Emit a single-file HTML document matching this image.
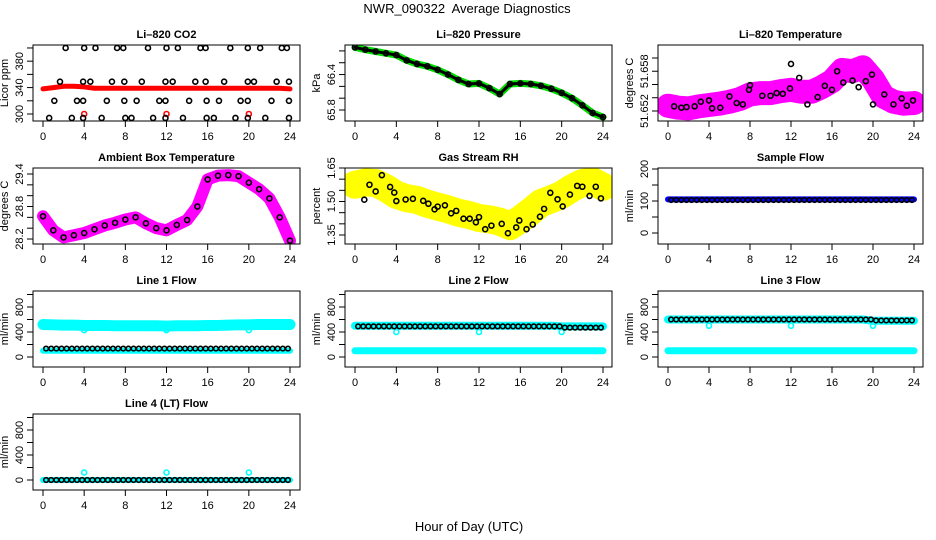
<!DOCTYPE html>
<html><head><meta charset="utf-8"><style>
html,body{margin:0;padding:0;background:#fff}
svg{display:block;font-family:"Liberation Sans",Arial,sans-serif}
</style></head><body>
<svg id="chart" width="936" height="540" viewBox="0 0 936 540">
<text x="467" y="13" text-anchor="middle" font-size="13" style="white-space:pre" xml:space="preserve">NWR_090322  Average Diagnostics</text>
<text x="469" y="531" text-anchor="middle" font-size="13">Hour of Day (UTC)</text>
</svg>
<script>
// ---------- data ----------
const hours = [0,1,2,3,4,5,6,7,8,9,10,11,12,13,14,15,16,17,18,19,20,21,22,23,24];
const halfHours = [0.3,0.8,1.3,1.8,2.3,2.8,3.3,3.8,4.3,4.8,5.3,5.8,6.3,6.8,7.3,7.8,8.3,8.8,9.3,9.8,10.3,10.8,11.3,11.8,12.3,12.8,13.3,13.8,14.3,14.8,15.3,15.8,16.3,16.8,17.3,17.8,18.3,18.8,19.3,19.8,20.3,20.8,21.3,21.8,22.3,22.8,23.3,23.8];
const xTicks = [0,4,8,12,16,20,24];

const co2Red = [338,340,342,342,341,339,339,339,339,339,339,339,339,339,339,339,339,339,339,339,339,339,339,339,338];
const co2OutHours = [4,12,20];
const co2OutVals = [300,300,300];
const co2BlackHours = [2.2,4.0,5.1,7.2,7.8,10.2,12.0,13.1,15.3,15.8,18.2,19.9,21.1,23.2,23.7,
 1.65,3.9,4.6,6.7,7.9,9.6,11.9,12.6,14.8,15.8,17.6,19.9,20.5,22.7,23.9,
 1.1,3.3,3.9,6.2,7.9,9.1,11.3,11.9,14.2,15.9,17.1,19.2,19.9,22.2,23.9,
 0.6,2.8,3.9,5.7,8.0,8.6,10.7,11.9,13.6,15.9,16.6,18.7,19.9,21.6,23.9];
const co2BlackVals = [400,400,400,400,400,400,400,400,400,400,400,400,400,400,400,
 349,349,349,349,349,349,349,349,349,349,349,349,349,349,349,
 320,320,320,320,320,320,320,320,320,320,320,320,320,320,320,
 294,294,294,294,294,294,294,294,294,294,294,294,294,294,294];

const pressVals = [66.86,66.82,66.79,66.76,66.73,66.64,66.58,66.54,66.48,66.40,66.31,66.24,66.25,66.17,66.07,66.24,66.25,66.24,66.21,66.16,66.09,66.00,65.88,65.75,65.68];

const tempMag = [51.6508,51.6505,51.6504,51.6507,51.6509,51.6511,51.6514,51.6518,51.6525,51.6527,51.6527,51.6530,51.6532,51.6529,51.6529,51.6536,51.6545,51.6562,51.6560,51.6566,51.6548,51.6522,51.6514,51.6511,51.6512];
const tempBlackHours = [0.6,1.3,1.8,2.6,3.2,4.0,4.3,5.1,6.0,6.7,7.3,7.9,8.0,9.2,10.0,10.6,11.2,11.9,12.0,12.8,13.6,14.6,15.3,16.0,16.5,17.1,18.0,18.6,19.3,19.9,20.0,21.1,22.0,22.8,23.3,23.9];
const tempBlackVals = [51.6507,51.6505,51.6506,51.6507,51.6514,51.6516,51.6504,51.6505,51.6522,51.6512,51.6510,51.6532,51.6539,51.6523,51.6523,51.6527,51.6526,51.6534,51.6571,51.6550,51.6510,51.6521,51.6538,51.6532,51.6560,51.6543,51.6546,51.6536,51.6545,51.6555,51.6510,51.6525,51.6510,51.6519,51.6508,51.6516];

const ambVals = [28.62,28.36,28.23,28.27,28.31,28.38,28.45,28.50,28.56,28.60,28.49,28.40,28.36,28.46,28.55,28.80,29.30,29.37,29.38,29.36,29.24,29.12,28.95,28.60,28.17];

const rhYellow = [1.575,1.585,1.583,1.56,1.53,1.515,1.507,1.49,1.477,1.465,1.45,1.44,1.426,1.42,1.41,1.39,1.42,1.455,1.493,1.51,1.53,1.56,1.583,1.59,1.566];
const rhBlackHours = [0.9,1.4,2.0,2.6,3.4,3.8,4.0,4.9,5.6,6.6,7.1,7.7,8.0,8.7,9.3,9.8,10.5,11.1,11.7,12.0,12.6,13.2,14.2,14.8,15.6,15.9,16.6,17.2,17.9,18.3,18.9,19.6,20.1,20.8,21.5,22.0,22.7,23.3,23.8];
const rhBlackVals = [1.508,1.575,1.545,1.618,1.565,1.540,1.502,1.509,1.512,1.503,1.490,1.465,1.477,1.483,1.447,1.458,1.423,1.423,1.407,1.430,1.376,1.392,1.400,1.358,1.384,1.415,1.376,1.397,1.432,1.467,1.539,1.510,1.478,1.531,1.570,1.566,1.525,1.566,1.514];

const sampleVals = [105,105,105,105,105,105,105,105,105,105,105,105,105,105,105,105,105,105,105,105,105,105,105,105,105];
const sampleBlack = [103,103,103,103,103,103,103,103,103,103,103,103,103,103,103,103,103,103,103,103,103,103,103,103,103,103,103,103,103,103,103,103,103,103,103,103,103,103,103,103,103,103,103,103,103,103,103,103];

const line1Cyan = [520,515,510,510,505,505,505,500,500,500,500,500,495,500,500,500,505,505,510,515,515,520,520,520,520];
const line1Low = [100,100,100,100,100,100,100,100,100,100,100,100,100,100,100,100,100,100,100,100,100,100,100,100,100];
const line1Black = [135,135,135,135,135,135,135,135,135,135,135,135,135,135,135,135,135,135,135,135,135,135,135,135,135,135,135,135,135,135,135,135,135,135,135,135,135,135,135,135,135,135,135,135,135,135,135,135];
const line2Cyan = [500,500,500,500,500,500,500,500,500,500,500,500,500,500,500,500,500,500,500,500,490,490,490,490,490];
const line2Low = [100,100,100,100,100,100,100,100,100,100,100,100,100,100,100,100,100,100,100,100,100,100,100,100,100];
const line2Black = [490,490,490,490,490,490,490,490,490,490,490,490,490,490,490,490,490,490,490,490,490,490,490,490,490,490,490,490,490,490,490,490,490,490,490,490,490,490,490,490,470,470,470,470,470,470,470,470];
const line3Cyan = [600,600,600,600,600,600,600,600,600,600,600,600,600,600,600,600,600,600,600,600,580,580,580,580,580];
const line3Low = [100,100,100,100,100,100,100,100,100,100,100,100,100,100,100,100,100,100,100,100,100,100,100,100,100];
const line3Black = [600,600,600,600,600,600,600,600,600,600,600,600,600,600,600,600,600,600,600,600,600,600,600,600,600,600,600,600,600,600,600,600,600,600,600,600,600,600,600,600,585,585,585,585,585,585,585,585];
const line4Cyan = [0,0,0,0,0,0,0,0,0,0,0,0,0,0,0,0,0,0,0,0,0,0,0,0,0];
const line4Black = [0,0,0,0,0,0,0,0,0,0,0,0,0,0,0,0,0,0,0,0,0,0,0,0,0,0,0,0,0,0,0,0,0,0,0,0,0,0,0,0,0,0,0,0,0,0,0,0];
const flowOutHours = [4,12,20];
const line1Out = [430,430,430];
const line2Out = [400,400,400];
const line3Out = [500,500,500];
const line4Out = [120,120,120];

const co2Ticks=[300,320,340,360,380,400], co2Labels=["300","","340","","380",""];
const pressTicks=[65.8,66.0,66.2,66.4,66.6,66.8], pressLabels=["65.8","","","66.4","",""];
const tempTicks=[51.650,51.652,51.654,51.656,51.658], tempLabels=["51.652","","","51.658",""];
const ambTicks=[28.2,28.4,28.6,28.8,29.0,29.2,29.4], ambLabels=["28.2","","","28.8","","","29.4"];
const rhTicks=[1.35,1.40,1.45,1.50,1.55,1.60,1.65], rhLabels=["1.35","","","1.50","","","1.65"];
const sampleTicks=[0,50,100,150,200], sampleLabels=["0","","100","","200"];
const flowTicks=[0,200,400,600,800,1000], flowLabels=["0","","400","","800",""];

// ---------- drawing ----------
const NS="http://www.w3.org/2000/svg";
const svg=document.getElementById('chart');
function mk(tag,attrs,parent){const e=document.createElementNS(NS,tag);for(const k in attrs)e.setAttribute(k,attrs[k]);(parent||svg).appendChild(e);return e;}
const cols=[{l:33,r:300,x0:43,x24:290},{l:345,r:612,x0:355,x24:603},{l:658,r:923,x0:668,x24:914}];
function panel(name,title,col,row,ymin,ymax,ticks,labels,ytitle){
  const c=cols[col],top=45+123*row,bot=121+123*row;
  const g=mk('g',{});
  
  
  const X=h=>c.x0+(h/24)*(c.x24-c.x0);
  const Y=v=>bot-(v-ymin)/(ymax-ymin)*(bot-top);
  const clip=mk('clipPath',{id:'clip-'+name},g);
  mk('rect',{x:c.l,y:top,width:c.r-c.l,height:bot-top},clip);
  const plot=mk('g',{'clip-path':'url(#clip-'+name+')'},g);
  
  
  const t=mk('text',{x:(c.l+c.r)/2,y:top-7,'text-anchor':'middle','font-size':11,'font-weight':'bold'},g);
  t.textContent=title;
  
  
  const box=mk('rect',{x:c.l,y:top,width:c.r-c.l,height:bot-top,fill:'none',stroke:'#000','stroke-width':1},g);
  
  
  xTicks.forEach(h=>{
    const tk=mk('line',{x1:X(h),x2:X(h),y1:bot,y2:bot+6,stroke:'#000'},g);
    
    
    const lb=mk('text',{x:X(h),y:bot+19,'text-anchor':'middle','font-size':11},g);
    lb.textContent=h;
    
    
  });
  ticks.forEach((v,i)=>{
    const tk=mk('line',{x1:c.l-6,x2:c.l,y1:Y(v),y2:Y(v),stroke:'#000'},g);
    
    
    if(labels[i]){
      const lx=c.l-10,ly=Y(v);
      const lb=mk('text',{x:lx,y:ly,'text-anchor':'middle','font-size':11,transform:`rotate(-90 ${lx} ${ly})`},g);
      lb.textContent=labels[i];
      
      
    }
  });
  const yx=c.l-25,yy=(top+bot)/2;
  const yt=mk('text',{x:yx,y:yy,'text-anchor':'middle','font-size':11,transform:`rotate(-90 ${yx} ${yy})`},g);
  yt.textContent=ytitle;
  
  
  return {X,Y,plot};
}
function band(p,hs,vs,color,w,nm){
  const pts=hs.map((h,i)=>p.X(h)+','+p.Y(vs[i])).join(' ');
  const e=mk('polyline',{points:pts,fill:'none',stroke:color,'stroke-width':w,'stroke-linejoin':'round','stroke-linecap':'round'},p.plot);
  
  
}
function pts(p,hs,vs,color,r,nm){
  hs.forEach((h,i)=>{
    const e=mk('circle',{cx:p.X(h),cy:p.Y(vs[i]),r:r,fill:'none',stroke:color,'stroke-width':1.6},p.plot);
    
    
  });
}

let p;
p=panel('co2','Li\u2013820 CO2',0,0,289.4,404.5,co2Ticks,co2Labels,'Licor ppm');
band(p,hours,co2Red,'#ff0000',5,'co2-series');
pts(p,co2OutHours,co2OutVals,'#ff0000',2.5,'co2-outlier');
pts(p,co2BlackHours,co2BlackVals,'#000',2.5,'co2-sample-point');

p=panel('pressure','Li\u2013820 Pressure',1,0,65.614,66.90,pressTicks,pressLabels,'kPa');
band(p,hours,pressVals,'#00dd00',7,'pressure-series');
band(p,hours,pressVals,'#000',3,'pressure-sample-line');
pts(p,hours,pressVals,'#000',2.5,'pressure-sample-point');

p=panel('temperature','Li\u2013820 Temperature',2,0,51.64849,51.65996,tempTicks,tempLabels,'degrees C');
band(p,hours,tempMag,'#ff00ff',24,'temperature-series');
pts(p,tempBlackHours,tempBlackVals,'#000',2.5,'temperature-sample-point');

p=panel('ambient','Ambient Box Temperature',0,1,28.108,29.511,ambTicks,ambLabels,'degrees C');
band(p,hours,ambVals,'#ff00ff',12,'ambient-series');
pts(p,hours,ambVals,'#000',2.5,'ambient-sample-point');

p=panel('rh','Gas Stream RH',1,1,1.3097,1.65,rhTicks,rhLabels,'percent');
band(p,hours,rhYellow,'#ffff00',28,'rh-series');
pts(p,rhBlackHours,rhBlackVals,'#000',2.5,'rh-sample-point');

p=panel('sample-flow','Sample Flow',2,1,-34.4,203.1,sampleTicks,sampleLabels,'ml/min');
band(p,hours,sampleVals,'#0000ff',6,'sample-flow-series');
pts(p,halfHours,sampleBlack,'#000',2.3,'sample-flow-point');

p=panel('line1','Line 1 Flow',0,2,-160,1056,flowTicks,flowLabels,'ml/min');
band(p,hours,line1Cyan,'#00ffff',11,'line1-cyan-series');
band(p,hours,line1Low,'#00ffff',6,'line1-cyan-low-series');
pts(p,flowOutHours,line1Out,'#00ffff',2.5,'line1-outlier');
pts(p,halfHours,line1Black,'#000',2.3,'line1-sample-point');

p=panel('line2','Line 2 Flow',1,2,-160,1056,flowTicks,flowLabels,'ml/min');
band(p,hours,line2Cyan,'#00ffff',8,'line2-cyan-series');
band(p,hours,line2Low,'#00ffff',7,'line2-cyan-low-series');
pts(p,flowOutHours,line2Out,'#00ffff',2.5,'line2-outlier');
pts(p,halfHours,line2Black,'#000',2.3,'line2-sample-point');

p=panel('line3','Line 3 Flow',2,2,-160,1056,flowTicks,flowLabels,'ml/min');
band(p,hours,line3Cyan,'#00ffff',8,'line3-cyan-series');
band(p,hours,line3Low,'#00ffff',7,'line3-cyan-low-series');
pts(p,flowOutHours,line3Out,'#00ffff',2.5,'line3-outlier');
pts(p,halfHours,line3Black,'#000',2.3,'line3-sample-point');

p=panel('line4','Line 4 (LT) Flow',0,3,-160,1056,flowTicks,flowLabels,'ml/min');
band(p,hours,line4Cyan,'#00ffff',6,'line4-cyan-series');
pts(p,flowOutHours,line4Out,'#00ffff',2.5,'line4-outlier');
pts(p,halfHours,line4Black,'#000',2.3,'line4-sample-point');
</script>
</body></html>
